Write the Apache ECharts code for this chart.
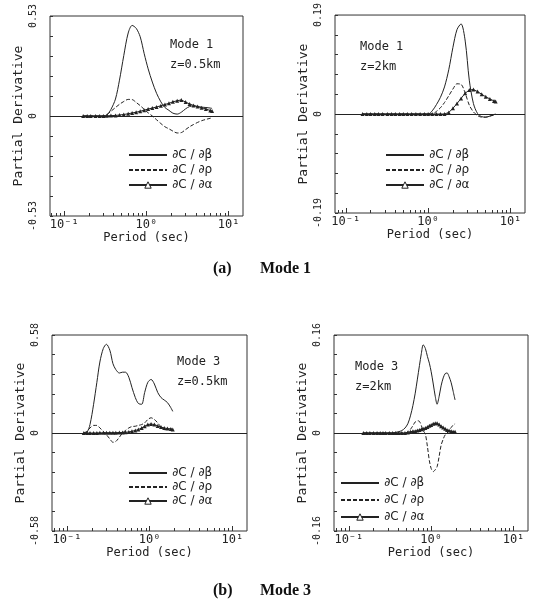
<!DOCTYPE html>
<html>
<head>
<meta charset="utf-8">
<script src="https://cdn.jsdelivr.net/npm/echarts@6/dist/echarts.min.js"></script>
<style>
html,body{margin:0;padding:0;background:#fff;}
#chart{width:533px;height:606px;}
</style>
</head>
<body>
<div id="chart"></div>
<script>
// (a) Mode 1, z=0.5km
const periodA1 = [0.17,0.19,0.21,0.24,0.27,0.3,0.33,0.37,0.42,0.47,0.53,0.6,0.67,0.75,0.84,0.94,1.05,1.18,1.33,1.5,1.68,1.88,2.1,2.37,2.66,3.0,3.35,3.75,4.2,4.7,5.3,6.0,6.3];
const betaA1  = [0,0,0,0,0,0,0.005,0.035,0.09,0.19,0.32,0.44,0.48,0.465,0.42,0.33,0.25,0.18,0.12,0.075,0.045,0.03,0.015,0.01,0.02,0.038,0.05,0.053,0.05,0.047,0.045,0.042,0.04];
const rhoA1   = [0,0,0,0,0,0,0.008,0.025,0.045,0.062,0.077,0.088,0.087,0.072,0.055,0.035,0.017,0,-0.02,-0.04,-0.057,-0.068,-0.08,-0.09,-0.088,-0.072,-0.057,-0.045,-0.034,-0.025,-0.018,-0.012,-0.01];
const alphaA1 = [0,0,0,0,0,0,0.001,0.002,0.003,0.005,0.008,0.012,0.016,0.02,0.025,0.031,0.037,0.042,0.048,0.054,0.061,0.067,0.075,0.081,0.085,0.074,0.064,0.056,0.05,0.044,0.037,0.029,0.026];

// (a) Mode 1, z=2km
const periodA2 = [0.16,0.18,0.2,0.225,0.25,0.28,0.32,0.36,0.4,0.45,0.5,0.56,0.63,0.71,0.8,0.9,1.0,1.12,1.26,1.41,1.58,1.78,2.0,2.24,2.51,2.82,3.16,3.55,3.98,4.47,5.01,5.62,6.31,6.6];
const betaA2  = [0,0,0,0,0,0,0,0,0,0,0,0,0,0,0,0,0,0.006,0.018,0.032,0.052,0.085,0.128,0.162,0.173,0.14,0.065,0.02,0.001,-0.005,-0.006,-0.004,-0.001,0];
const rhoA2   = [0,0,0,0,0,0,0,0,0,0,0,0,0,0,0,0,0,0,0.005,0.012,0.022,0.035,0.048,0.058,0.057,0.04,0.017,0.004,-0.003,-0.006,-0.006,-0.004,-0.002,-0.001];
const alphaA2 = [0,0,0,0,0,0,0,0,0,0,0,0,0,0,0,0,0,0,0,0,0,0.003,0.011,0.02,0.03,0.04,0.046,0.047,0.043,0.038,0.033,0.029,0.025,0.024];

// (b) Mode 3, z=0.5km
const periodB1 = [0.16,0.175,0.19,0.21,0.23,0.25,0.275,0.3,0.33,0.36,0.39,0.43,0.47,0.51,0.56,0.61,0.67,0.73,0.8,0.87,0.95,1.04,1.14,1.25,1.37,1.5,1.64,1.8,1.9];
const betaB1  = [0,0.005,0.05,0.17,0.3,0.42,0.5,0.525,0.49,0.41,0.375,0.355,0.36,0.36,0.33,0.27,0.21,0.175,0.17,0.24,0.3,0.317,0.29,0.24,0.21,0.195,0.18,0.15,0.128];
const rhoB1   = [0,0.01,0.03,0.045,0.045,0.03,0.01,-0.01,-0.035,-0.055,-0.05,-0.025,0,0.015,0.03,0.038,0.04,0.045,0.05,0.06,0.08,0.09,0.08,0.06,0.035,0.02,0.02,0.025,0.02];
const alphaB1 = [0,0,0,0,0,0.001,0.001,0.002,0.002,0.002,0.002,0.003,0.003,0.004,0.006,0.01,0.015,0.02,0.03,0.04,0.05,0.053,0.05,0.042,0.035,0.03,0.026,0.024,0.02];

// (b) Mode 3, z=2km
const periodB2 = [0.15,0.165,0.18,0.2,0.22,0.24,0.26,0.28,0.31,0.34,0.37,0.4,0.44,0.48,0.52,0.56,0.6,0.64,0.68,0.72,0.76,0.8,0.85,0.9,0.95,1.0,1.06,1.12,1.18,1.25,1.32,1.4,1.48,1.56,1.65,1.75,1.85,1.95];
const betaB2  = [0,0,0,0,0,0,0,0,0,0,0.001,0.002,0.004,0.008,0.015,0.028,0.045,0.065,0.088,0.11,0.13,0.144,0.138,0.125,0.114,0.1,0.08,0.06,0.047,0.06,0.077,0.09,0.097,0.098,0.092,0.082,0.068,0.054];
const rhoB2   = [0,0,0,0,0,0,0,0,0,0,0,0,0,0,0.002,0.006,0.012,0.018,0.02,0.019,0.012,0.004,-0.002,-0.022,-0.045,-0.058,-0.063,-0.06,-0.055,-0.038,-0.02,-0.01,-0.003,0,0.004,0.009,0.013,0.015];
const alphaB2 = [0,0,0,0,0,0,0,0,0,0,0,0,0,0,0.001,0.002,0.003,0.003,0.004,0.005,0.006,0.007,0.008,0.01,0.012,0.013,0.015,0.016,0.016,0.014,0.011,0.009,0.007,0.005,0.004,0.003,0.002,0.002];

const names = ['\u2202C / \u2202\u03b2', '\u2202C / \u2202\u03c1', '\u2202C / \u2202\u03b1'];
const majorTicks = [0.1, 1, 10];
const minorTicks = [0.07,0.08,0.09,0.2,0.3,0.4,0.5,0.6,0.7,0.8,0.9,2,3,4,5,6,7,8,9];
const supLabel = {0.1: '10\u207b\u00b9', 1: '10\u2070', 10: '10\u00b9'};

const MONO = '"DejaVu Sans Mono", monospace';
const INK = '#222';

const panels = [
  {grid: {left: 50, top: 16, width: 193, height: 200}, xMin: 0.067, xMax: 15, yMax: 0.53,
   period: periodA1, beta: betaA1, rho: rhoA1, alpha: alphaA1,
   mode: 'Mode 1', depth: 'z=0.5km', note: [170, 39], legend: [128, 148, 1]},
  {grid: {left: 335, top: 15, width: 190, height: 198}, xMin: 0.074, xMax: 15, yMax: 0.19,
   period: periodA2, beta: betaA2, rho: rhoA2, alpha: alphaA2,
   mode: 'Mode 1', depth: 'z=2km', note: [360, 41], legend: [385, 148, 1]},
  {grid: {left: 52, top: 335, width: 195, height: 196}, xMin: 0.066, xMax: 15, yMax: 0.58,
   period: periodB1, beta: betaB1, rho: rhoB1, alpha: alphaB1,
   mode: 'Mode 3', depth: 'z=0.5km', note: [177, 356], legend: [128, 466, 0]},
  {grid: {left: 334, top: 335, width: 194, height: 196}, xMin: 0.066, xMax: 15, yMax: 0.16,
   period: periodB2, beta: betaB2, rho: rhoB2, alpha: alphaB2,
   mode: 'Mode 3', depth: 'z=2km', note: [355, 361], legend: [340, 476, 3]}
];

const grid = [], xAxis = [], yAxis = [], series = [], legend = [], graphic = [];

panels.forEach((p, i) => {
  grid.push(Object.assign({show: true, borderColor: '#333', borderWidth: 1}, p.grid));
  xAxis.push({
    type: 'log', gridIndex: i, min: p.xMin, max: p.xMax, position: 'bottom',
    name: 'Period (sec)', nameLocation: 'middle', nameGap: 15,
    nameTextStyle: {fontFamily: MONO, fontSize: 12, color: INK},
    axisLine: {show: false, onZero: false},
    axisTick: {inside: true, length: 5, customValues: majorTicks, lineStyle: {color: '#333'}},
    axisLabel: {customValues: majorTicks, margin: 3, fontFamily: MONO, fontSize: 12, color: INK,
      formatter: v => supLabel[v] || ''},
    splitLine: {show: false}
  });
  xAxis.push({
    type: 'log', gridIndex: i, min: p.xMin, max: p.xMax, position: 'bottom',
    axisLine: {show: false, onZero: false},
    axisTick: {inside: true, length: 3, customValues: minorTicks, lineStyle: {color: '#333'}},
    axisLabel: {show: false}, splitLine: {show: false}
  });
  yAxis.push({
    type: 'value', gridIndex: i, min: -p.yMax, max: p.yMax, interval: p.yMax / 5,
    name: 'Partial Derivative', nameLocation: 'middle', nameRotate: 90, nameGap: 25,
    nameTextStyle: {fontFamily: MONO, fontSize: 13, color: INK},
    axisLine: {show: false},
    axisTick: {inside: true, length: 3, lineStyle: {color: '#333'}},
    axisLabel: {rotate: 90, margin: 12, fontFamily: MONO, fontSize: 10, color: INK,
      formatter: v => Math.abs(v) < 1e-9 ? '0' :
        (Math.abs(Math.abs(v) - p.yMax) < 1e-6 ? (v < 0 ? '-' : '') + p.yMax.toFixed(2) : '')},
    splitLine: {show: false}
  });
  const xi = i * 2;
  const pairs = arr => p.period.map((t, k) => [t, arr[k]]);
  series.push({
    name: names[0], type: 'line', xAxisIndex: xi, yAxisIndex: i, data: pairs(p.beta),
    symbol: 'none', smooth: 0.3, itemStyle: {color: INK}, lineStyle: {color: INK, width: 1},
    markLine: {silent: true, symbol: ['none', 'none'], label: {show: false},
      lineStyle: {color: '#222', width: 1, type: 'solid'}, data: [{yAxis: 0}]}
  });
  series.push({
    name: names[1], type: 'line', xAxisIndex: xi, yAxisIndex: i, data: pairs(p.rho),
    symbol: 'none', smooth: 0.3, itemStyle: {color: INK}, lineStyle: {color: INK, width: 1, type: [4, 2]}
  });
  series.push({
    name: names[2], type: 'line', xAxisIndex: xi, yAxisIndex: i, data: pairs(p.alpha),
    symbol: 'triangle', symbolSize: 4, showAllSymbol: true,
    itemStyle: {color: INK}, lineStyle: {color: INK, width: 1}
  });
  legend.push({
    orient: 'vertical', left: p.legend[0], top: p.legend[1], padding: 0, selectedMode: false,
    itemWidth: 38, itemHeight: 8, itemGap: p.legend[2],
    textStyle: {fontFamily: '"DejaVu Sans", sans-serif', fontSize: 12, color: INK, lineHeight: 14},
    data: [
      {name: names[0], itemStyle: {opacity: 0}},
      {name: names[1], itemStyle: {opacity: 0}},
      {name: names[2], itemStyle: {color: '#fff', borderColor: INK, borderWidth: 1}}]
  });
  graphic.push({type: 'text', left: p.note[0], top: p.note[1],
    style: {text: p.mode, font: '12px ' + MONO, fill: INK}});
  graphic.push({type: 'text', left: p.note[0], top: p.note[1] + 20,
    style: {text: p.depth, font: '12px ' + MONO, fill: INK}});
});

const CAP = 'bold 16px "Liberation Serif", serif';
graphic.push({type: 'text', left: 213, top: 261, style: {text: '(a)', font: CAP, fill: '#111'}});
graphic.push({type: 'text', left: 260, top: 261, style: {text: 'Mode 1', font: CAP, fill: '#111'}});
graphic.push({type: 'text', left: 213, top: 583, style: {text: '(b)', font: CAP, fill: '#111'}});
graphic.push({type: 'text', left: 260, top: 583, style: {text: 'Mode 3', font: CAP, fill: '#111'}});

const chart = echarts.init(document.getElementById('chart'), null, {renderer: 'canvas'});
chart.setOption({
  animation: false,
  backgroundColor: '#fff',
  grid, xAxis, yAxis, series, legend, graphic
});
</script>
</body>
</html>
